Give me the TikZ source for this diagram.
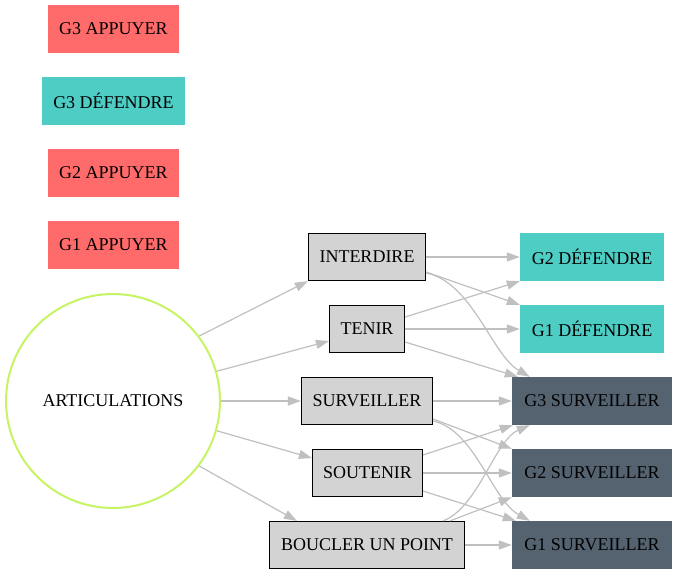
\documentclass[tikz,border=0pt]{standalone}
\usepackage{fontspec}
\setmainfont{Liberation Serif}
\usetikzlibrary{arrows.meta}
\definecolor{red1}{HTML}{FF6B6B}
\definecolor{teal1}{HTML}{4ECDC4}
\definecolor{slate1}{HTML}{556270}
\definecolor{lime1}{HTML}{C7F464}
\definecolor{edgegray}{HTML}{C0C0C0}
\definecolor{boxgray}{HTML}{D3D3D3}
\begin{document}
\begin{tikzpicture}[x=1pt,y=-1pt,
 every node/.style={font=\fontsize{18}{20}\selectfont, inner sep=0pt, text=black},
 colbox/.style={rectangle, minimum height=48pt},
 graybox/.style={rectangle, draw=black, line width=1.2pt, fill=boxgray, minimum height=47pt},
 edge/.style={draw=edgegray, line width=1.2pt, -{Triangle[length=13pt,width=9pt]}}
]
\useasboundingbox (0,0) rectangle (677,575);
\fill[white] (0,0) rectangle (677,575);
\node[colbox, fill=red1, minimum width=131pt] (g3a) at (113.5,29) {G3 APPUYER};
\node[colbox, fill=teal1, minimum width=143pt] (g3d) at (113.5,101) {G3 DÉFENDRE};
\node[colbox, fill=red1, minimum width=131pt] (g2a) at (113.5,173) {G2 APPUYER};
\node[colbox, fill=red1, minimum width=131pt] (g1a) at (113.5,245) {G1 APPUYER};
\node[circle, draw=lime1, line width=2pt, minimum size=214pt] (art) at (113,401) {ARTICULATIONS};
\node[graybox, minimum width=117pt] (int) at (367,257) {INTERDIRE};
\node[graybox, minimum width=75pt] (ten) at (367,329) {TENIR};
\node[graybox, minimum width=131pt] (sur) at (367,401) {SURVEILLER};
\node[graybox, minimum width=110pt] (sou) at (367.5,473) {SOUTENIR};
\node[graybox, minimum width=195pt] (bou) at (367,545) {BOUCLER UN POINT};
\node[colbox, fill=teal1, minimum width=144pt] (g2d) at (592,257) {G2 DÉFENDRE};
\node[colbox, fill=teal1, minimum width=144pt] (g1d) at (592,329) {G1 DÉFENDRE};
\node[colbox, fill=slate1, minimum width=160pt] (g3s) at (592,401) {G3 SURVEILLER};
\node[colbox, fill=slate1, minimum width=160pt] (g2s) at (592,473) {G2 SURVEILLER};
\node[colbox, fill=slate1, minimum width=160pt] (g1s) at (592,545) {G1 SURVEILLER};

\draw[edge] (art.37) -- (int.south west);
\draw[edge] (art.16) -- ([yshift=-12pt]ten.west);
\draw[edge] (art.east) -- (sur.west);
\draw[edge] (art.-16) -- ([yshift=15pt]sou.west);
\draw[edge] (art.-37) -- ([xshift=28pt]bou.north west);

\draw[edge] (int.east) -- (g2d.west);
\draw[edge] ([yshift=-15pt]int.east) -- (g1d.north west);
\draw[edge] ([yshift=-16pt]int.east) .. controls (472,282) and (492,355) .. ([xshift=18pt]g3s.north west);

\draw[edge] ([yshift=12pt]ten.east) -- (g2d.south west);
\draw[edge] (ten.east) -- (g1d.west);
\draw[edge] ([yshift=-13pt]ten.east) -- ([xshift=6pt]g3s.north west);

\draw[edge] (sur.east) -- (g3s.west);
\draw[edge] ([yshift=-18pt]sur.east) -- (g2s.north west);
\draw[edge] ([yshift=-20pt]sur.east) .. controls (475,430) and (492,500) .. ([xshift=18pt]g1s.north west);

\draw[edge] ([yshift=18pt]sou.east) -- ([xshift=1pt]g3s.south west);
\draw[edge] (sou.east) -- (g2s.west);
\draw[edge] ([yshift=-18pt]sou.east) -- ([xshift=4pt]g1s.north west);

\draw[edge] ([xshift=76pt]bou.north) .. controls (478,508) and (495,440) .. ([xshift=18pt]g3s.south west);
\draw[edge] ([xshift=83pt]bou.north) -- (g2s.south west);
\draw[edge] (bou.east) -- (g1s.west);
\end{tikzpicture}
\end{document}
